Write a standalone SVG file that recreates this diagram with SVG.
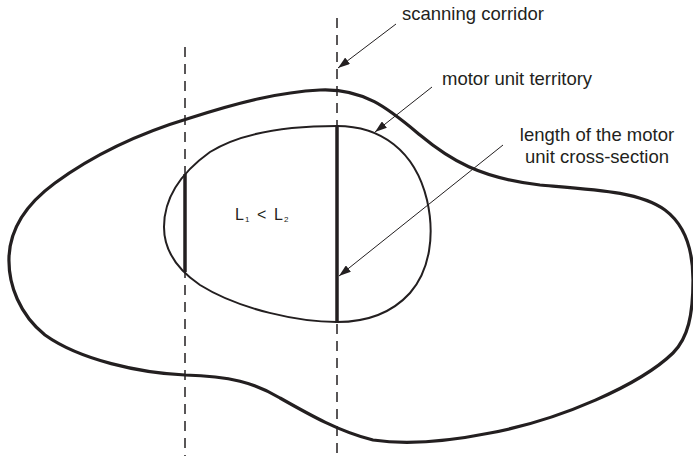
<svg xmlns="http://www.w3.org/2000/svg" width="693" height="456" viewBox="0 0 693 456">
<style>
.lbl{font-family:"Liberation Sans",Arial,sans-serif;font-size:18.5px;fill:#231f20}
.sm{font-family:"Liberation Sans",Arial,sans-serif;fill:#231f20}
.outer{fill:none;stroke:#231f20;stroke-width:3.2}
.inner{fill:none;stroke:#231f20;stroke-width:2}
.chord{stroke:#231f20;stroke-width:3.5}
.dash{stroke:#231f20;stroke-width:1.5;stroke-dasharray:10 7}
.ptr{stroke:#231f20;stroke-width:1;marker-end:url(#ah)}
</style>
<defs>
<marker id="ah" markerUnits="userSpaceOnUse" markerWidth="12" markerHeight="8" refX="12" refY="4" orient="auto">
<path d="M0,0 L12,4 L0,8 z" fill="#231f20"/>
</marker>
</defs>
<rect width="693" height="456" fill="#fff"/>
<g id="muscle">
<path class="outer" d="M320,90 C365,88 390,110 420,135 C450,160 480,178 540,185 C600,190 640,192 665,210 C685,225 693,250 693,280 C693,315 688,338 673,353 C640,385 560,420 490,433 C440,443 400,444 373,440 C340,432 310,415 280,398 C255,383 230,376 185,375 C140,373 80,360 45,335 C20,315 8,285 9,257 C10,230 25,205 55,183 C100,150 150,130 190,118 C240,102 280,92 320,90 Z"/>
</g>
<g id="territory">
<path class="inner" d="M337,126 C380,126 415,150 427,200 C435,235 430,270 410,293 C390,315 365,322 337,322 C300,322 240,310 200,285 C175,268 164,248 164,227 C164,200 178,175 210,152 C245,130 295,126 337,126 Z"/>
</g>
<g id="corridors">
<line class="dash" x1="185" y1="47" x2="185" y2="456"/>
<line class="dash" x1="337" y1="18" x2="337" y2="456"/>
</g>
<g id="sections">
<line class="chord" x1="185" y1="174" x2="185" y2="272"/>
<line class="chord" x1="337" y1="125" x2="337" y2="323"/>
</g>
<g id="connectors">
<line class="ptr" x1="396" y1="24" x2="338" y2="68"/>
<line class="ptr" x1="432" y1="87" x2="375" y2="132"/>
<line class="ptr" x1="503" y1="145" x2="339" y2="276"/>
</g>
<g id="labels">
<text class="lbl" x="402" y="20">scanning corridor</text>
<text class="lbl" x="442" y="85">motor unit territory</text>
<text class="lbl" x="597" y="141" text-anchor="middle">length of the motor</text>
<text class="lbl" x="597" y="163" text-anchor="middle">unit cross-section</text>
<text class="sm" font-size="16" y="220"><tspan x="235">L</tspan><tspan x="245" y="222" font-size="8">1</tspan><tspan x="257" y="220">&lt;</tspan><tspan x="274">L</tspan><tspan x="284" y="222" font-size="8">2</tspan></text>
</g>
</svg>
